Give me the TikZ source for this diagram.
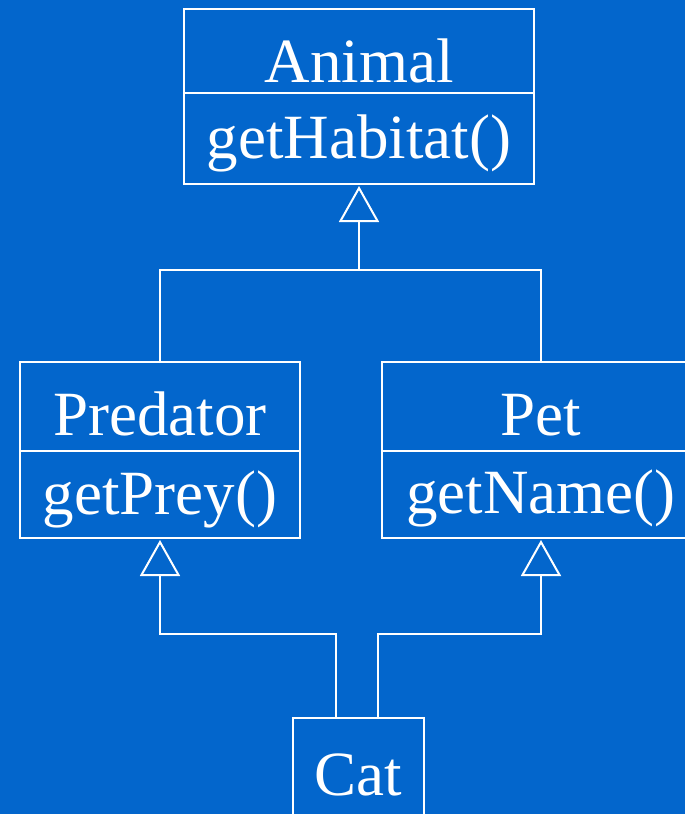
\documentclass[tikz,border=0pt]{standalone}
\usepackage{fontspec}
\setmainfont{Liberation Serif}
\usetikzlibrary{arrows.meta}
\definecolor{bgblue}{RGB}{3,102,204}
\begin{document}
\begin{tikzpicture}[x=1pt,y=-1pt,
  compartment/.style={draw=white, line width=2pt, fill=bgblue, text=white,
    inner sep=0pt, font=\fontsize{63}{70}\selectfont},
  % baseline sits #1/2 below the compartment centre
  baseline drop/.style={text height=#1, text depth=0pt},
  link/.style={draw=white, line width=2pt},
  inherit/.style={link, -{Triangle[open, length=36pt, width=40pt, line width=2pt]}, shorten >=1pt}
]
\useasboundingbox (0,0) rectangle (685,814);
\fill[bgblue] (0,0) rectangle (685,814);
\begin{scope}
\clip (0,0) rectangle (685,814);
% Animal class
\node[compartment, baseline drop=62pt, minimum width=350pt, minimum height=84pt] (animalname) at (359,51) {Animal};
\node[compartment, baseline drop=39pt, minimum width=350pt, minimum height=91pt] (animalops) at (359,138.5) {getHabitat()};
% Predator class
\node[compartment, baseline drop=57pt, minimum width=280pt, minimum height=89pt] (predname) at (160,406.5) {Predator};
\node[compartment, baseline drop=40pt, minimum width=280pt, minimum height=87pt] (predops) at (160,494.5) {getPrey()};
% Pet class
\node[compartment, baseline drop=57pt, minimum width=318pt, minimum height=89pt] (petname) at (541,406.5) {Pet};
\node[compartment, baseline drop=37pt, minimum width=318pt, minimum height=87pt] (petops) at (541,494.5) {getName()};
% Cat class
\node[compartment, baseline drop=52pt, minimum width=131pt, minimum height=102pt] (cat) at (358.5,769) {Cat};
% generalisation links
\coordinate (junction) at (359,270);
\draw[inherit] (predname.north) |- (junction) -- (animalops.south);
\draw[link] (petname.north) |- (junction);
\draw[inherit] ([xshift=-22.5pt]cat.north) -- ++(0,-83) -| (predops.south);
\draw[inherit] ([xshift=19.5pt]cat.north) -- ++(0,-83) -| (petops.south);
\end{scope}
\end{tikzpicture}
\end{document}
